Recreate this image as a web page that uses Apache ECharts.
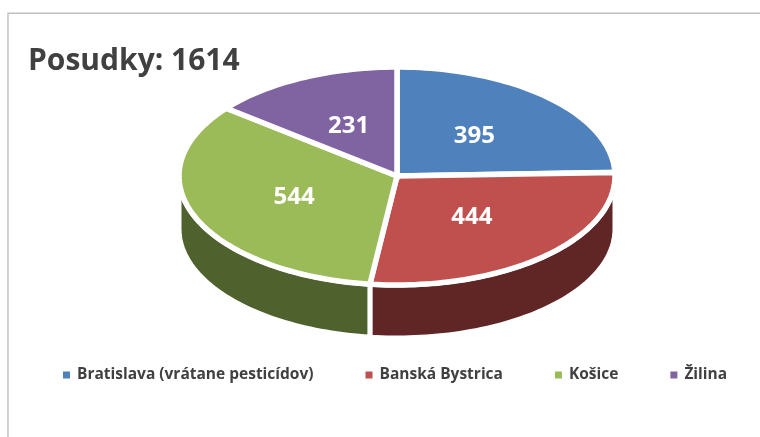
<!DOCTYPE html>
<html><head><meta charset="utf-8">
<script src="https://cdn.jsdelivr.net/npm/echarts@6/dist/echarts.min.js"></script>
<style>html,body{margin:0;padding:0;background:#fff}#c{width:760px;height:437px}</style>
</head><body><div id="c"></div>
<script>
const categories = ['Bratislava (vrátane pesticídov)', 'Banská Bystrica', 'Košice', 'Žilina'];
const values = [395, 444, 544, 231];
const titleText = 'Posudky: 1614';
const topColors = ['#4f81bd', '#c0504d', '#9bbb59', '#8064a2'];
const sideColors = ['#3a5f8c', '#602626', '#4f612d', '#5e4a78'];

const chart = echarts.init(document.getElementById('c'), null, { renderer: 'canvas' });
const total = values.reduce((a, b) => a + b, 0);
const CX = 397, CY = 176, RX = 218, RY = 109, DEPTH = 53;
const FONT = '"Open Sans"';
function pt(deg, dy) { const r = deg * Math.PI / 180; return [CX + RX * Math.sin(r), CY + (dy || 0) - RY * Math.cos(r)]; }
function arc(a, b, dy) { const pts = []; const n = Math.max(2, Math.ceil(Math.abs(b - a) / 1.5)); for (let i = 0; i <= n; i++) { pts.push(pt(a + (b - a) * i / n, dy)); } return pts; }

function makeSeries(idx) {
  return {
    type: 'custom', name: categories[idx], coordinateSystem: 'none',
    itemStyle: { color: topColors[idx] },
    data: [[values[idx], idx]],
    renderItem(params, api) {
      const i = api.value(1);
      let start = 0; for (let k = 0; k < i; k++) start += values[k];
      const a = start / total * 360, b = (start + api.value(0)) / total * 360;
      const children = [];
      const sa = Math.max(a, 90), sb = Math.min(b, 270);
      if (sb > sa) {
        const poly = arc(sa, sb, 0).concat(arc(sb, sa, DEPTH));
        children.push({ type: 'polygon', shape: { points: poly }, style: { fill: sideColors[i], stroke: '#fff', lineWidth: 5, lineJoin: 'round' }, z2: 1 });
      }
      const topPoly = [[CX, CY]].concat(arc(a, b, 0));
      children.push({ type: 'polygon', shape: { points: topPoly }, style: { fill: topColors[i], stroke: '#fff', lineWidth: 5.5, lineJoin: 'miter' }, z2: 10 });
      const m = (a + b) / 2, r = m * Math.PI / 180;
      children.push({ type: 'text', x: CX + 0.51 * RX * Math.sin(r), y: CY - 0.51 * RY * Math.cos(r), style: { text: String(api.value(0)), fill: '#fff', font: 'bold 24px ' + FONT, align: 'center', verticalAlign: 'middle' }, z2: 20 });
      return { type: 'group', children };
    }
  };
}

chart.setOption({
  animation: false,
  backgroundColor: '#fff',
  title: { text: titleText, left: 28, top: 46, padding: 0, textStyle: { fontFamily: 'Open Sans', fontWeight: 'bold', fontSize: 30, color: '#404040' } },
  legend: {
    left: 58, top: 362, itemWidth: 7, itemHeight: 7, itemGap: 52, icon: 'rect',
    textStyle: { fontFamily: 'Open Sans', fontWeight: 'bold', fontSize: 15.5, color: '#404040', padding: [0, 0, 0, 2] },
    data: categories
  },
  graphic: [{ type: 'rect', shape: { x: 8, y: 13.3, width: 800, height: 500 }, style: { fill: 'none', stroke: '#c0c0c0', lineWidth: 1.4 }, silent: true, z: -1 }],
  series: categories.map((c, i) => makeSeries(i))
});
</script></body></html>
